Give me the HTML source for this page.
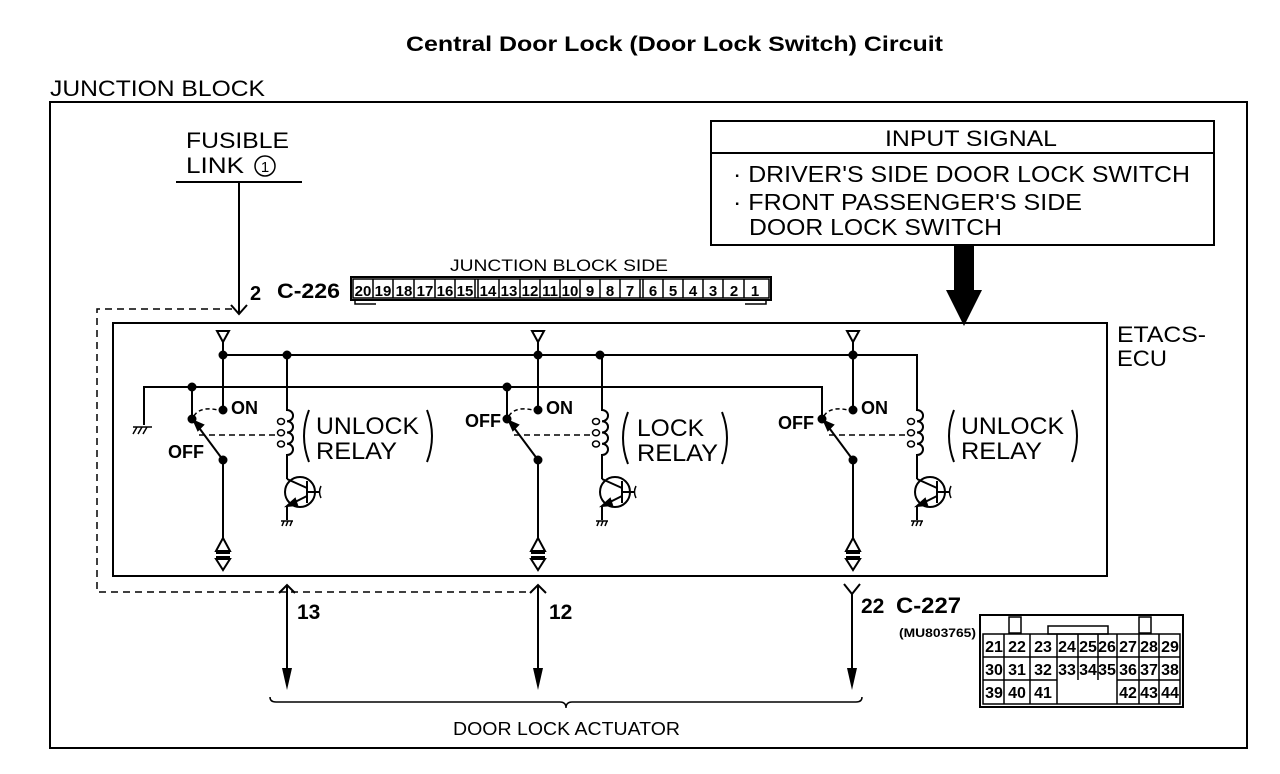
<!DOCTYPE html>
<html><head><meta charset="utf-8"><style>
html,body{margin:0;padding:0;background:#fff}
svg{display:block}
text{font-family:"Liberation Sans",sans-serif;fill:#000}
.b{font-family:"Liberation Sans Narrow","Liberation Sans",sans-serif;font-weight:bold}
</style></head><body>
<svg width="1280" height="774" viewBox="0 0 1280 774" xmlns="http://www.w3.org/2000/svg" stroke="#000" fill="none" stroke-width="2">
<text x="406" y="51" textLength="537" lengthAdjust="spacingAndGlyphs" font-size="21" font-weight="bold" stroke="none">Central Door Lock (Door Lock Switch) Circuit</text>
<text x="50" y="96" textLength="215" lengthAdjust="spacingAndGlyphs" font-size="22" stroke="none">JUNCTION BLOCK</text>
<rect x="50" y="102" width="1197" height="646"/>

<!-- fusible link -->
<text x="186" y="148" textLength="103" lengthAdjust="spacingAndGlyphs" font-size="22" stroke="none">FUSIBLE</text>
<text x="186" y="173" textLength="58" lengthAdjust="spacingAndGlyphs" font-size="22" stroke="none">LINK</text>
<circle cx="265" cy="166" r="10" stroke-width="1.5"/>
<text x="265" y="172" font-size="15" text-anchor="middle" stroke="none">1</text>
<line x1="176" y1="182" x2="302" y2="182"/>
<line x1="239" y1="183" x2="239" y2="314"/>
<polyline points="231,305 239,314 247,305"/>
<text x="250" y="300" class="b" font-size="20" stroke="none">2</text>
<text x="277" y="298" class="b" font-size="21" textLength="63" lengthAdjust="spacingAndGlyphs" stroke="none">C-226</text>

<!-- JB connector -->
<text x="450" y="271" textLength="218" lengthAdjust="spacingAndGlyphs" font-size="17" stroke="none">JUNCTION BLOCK SIDE</text>
<rect x="351" y="277" width="420" height="23"/>
<polyline points="355,300 355,304 376,304" stroke-width="1.5"/>
<polyline points="745,304 766,304 766,300" stroke-width="1.5"/>
<g stroke="none" font-size="15" class="b" text-anchor="middle">
<text x="363" y="296" class="b">20</text><text x="383" y="296" class="b">19</text><text x="404" y="296" class="b">18</text><text x="425" y="296" class="b">17</text><text x="445" y="296" class="b">16</text><text x="465" y="296" class="b">15</text>
<text x="488" y="296" class="b">14</text><text x="509" y="296" class="b">13</text><text x="530" y="296" class="b">12</text><text x="550" y="296" class="b">11</text><text x="570" y="296" class="b">10</text><text x="590" y="296" class="b">9</text><text x="610" y="296" class="b">8</text><text x="630" y="296" class="b">7</text>
<text x="653" y="296" class="b">6</text><text x="673" y="296" class="b">5</text><text x="693" y="296" class="b">4</text><text x="713" y="296" class="b">3</text><text x="734" y="296" class="b">2</text><text x="755" y="296" class="b">1</text>
</g>
<g stroke-width="1.5">
<line x1="373" y1="279" x2="373" y2="298"/><line x1="393" y1="279" x2="393" y2="298"/><line x1="414" y1="279" x2="414" y2="298"/><line x1="435" y1="279" x2="435" y2="298"/><line x1="455" y1="279" x2="455" y2="298"/><line x1="475" y1="279" x2="475" y2="298"/><line x1="478" y1="279" x2="478" y2="298"/>
<line x1="499" y1="279" x2="499" y2="298"/><line x1="520" y1="279" x2="520" y2="298"/><line x1="540" y1="279" x2="540" y2="298"/><line x1="560" y1="279" x2="560" y2="298"/><line x1="580" y1="279" x2="580" y2="298"/><line x1="600" y1="279" x2="600" y2="298"/><line x1="620" y1="279" x2="620" y2="298"/><line x1="640" y1="279" x2="640" y2="298"/><line x1="643" y1="279" x2="643" y2="298"/>
<line x1="663" y1="279" x2="663" y2="298"/><line x1="683" y1="279" x2="683" y2="298"/><line x1="703" y1="279" x2="703" y2="298"/><line x1="723" y1="279" x2="723" y2="298"/><line x1="744" y1="279" x2="744" y2="298"/>
<rect x="353" y="279" width="416" height="19"/>
</g>

<!-- input signal -->
<rect x="711" y="121" width="503" height="124"/>
<line x1="711" y1="153" x2="1214" y2="153"/>
<text x="885" y="146" textLength="172" lengthAdjust="spacingAndGlyphs" font-size="22" stroke="none">INPUT SIGNAL</text>
<text x="733" y="182" textLength="457" lengthAdjust="spacingAndGlyphs" font-size="23" stroke="none">· DRIVER'S SIDE DOOR LOCK SWITCH</text>
<text x="733" y="210" textLength="349" lengthAdjust="spacingAndGlyphs" font-size="23" stroke="none">· FRONT PASSENGER'S SIDE</text>
<text x="749" y="235" textLength="253" lengthAdjust="spacingAndGlyphs" font-size="23" stroke="none">DOOR LOCK SWITCH</text>
<polygon points="954,245 974,245 974,290 982,290 964,326 946,290 954,290" fill="#000" stroke="none"/>

<!-- ECU -->
<rect x="113" y="323" width="994" height="253"/>
<text x="1117" y="342" textLength="89" lengthAdjust="spacingAndGlyphs" font-size="22" stroke="none">ETACS-</text>
<text x="1117" y="366" textLength="50" lengthAdjust="spacingAndGlyphs" font-size="22" stroke="none">ECU</text>

<!-- dashed -->
<polyline points="232,309 97,309 97,592 532,592" stroke-dasharray="7,5" stroke-width="1.5"/>

<!-- wires -->
<polyline points="223,355 917,355 917,410"/>
<polyline points="144,425 144,387 822,387 822,419"/>
<g stroke-width="1.5"><line x1="133" y1="427" x2="152" y2="427"/><line x1="137" y1="427" x2="133" y2="434"/><line x1="142" y1="427" x2="138" y2="434"/><line x1="147" y1="427" x2="143" y2="434"/></g>

<defs>
<g id="sec">
<polygon points="217,331 229,331 223,342"/>
<line x1="223" y1="342" x2="223" y2="410"/>
<circle cx="223" cy="355" r="3.5" fill="#000"/>
<circle cx="223" cy="410" r="3.5" fill="#000"/>
<circle cx="192" cy="419" r="3.5" fill="#000"/>
<line x1="194" y1="421" x2="223" y2="460"/>
<polygon points="194,421 203,425 198,430" fill="#000"/>
<circle cx="223" cy="460" r="3.5" fill="#000"/>
<line x1="223" y1="460" x2="223" y2="538"/>
<polygon points="223,538 216,551 230,551"/>
<line x1="216" y1="553" x2="230" y2="553"/>
<line x1="216" y1="557" x2="230" y2="557"/>
<polygon points="216,559 230,559 223,570"/>
<path d="M194,416 Q200,406 218,410" stroke-dasharray="4,3" stroke-width="1.5"/>
<line x1="199" y1="435" x2="278" y2="435" stroke-dasharray="6,4" stroke-width="1.5"/>
<text x="231" y="414" class="b" font-size="18" stroke="none">ON</text>
<path d="M287,355 L287,410 a6,5.6 0 0 1 0,11.25 a6,5.6 0 0 1 0,11.25 a6,5.6 0 0 1 0,11.25 a6,5.6 0 0 1 0,11.25 L287,479"/>
<g stroke-width="1.5">
<ellipse cx="281" cy="421.5" rx="3.5" ry="3"/><ellipse cx="281" cy="432.8" rx="3.5" ry="3"/><ellipse cx="281" cy="444" rx="3.5" ry="3"/>
</g>
<circle cx="300" cy="492" r="15"/>
<line x1="307" y1="481" x2="307" y2="503"/>
<line x1="307" y1="492" x2="319" y2="492"/>
<path d="M321,486 Q318,492 321,498" stroke-width="1.5"/>
<line x1="287" y1="479" x2="307" y2="488"/>
<line x1="307" y1="496" x2="287" y2="506"/>
<polygon points="287,506 295,499 297,505" fill="#000"/>
<line x1="287" y1="506" x2="287" y2="520"/>
<g stroke-width="1.5"><line x1="281" y1="521" x2="293" y2="521"/><line x1="284" y1="521" x2="282" y2="526"/><line x1="288" y1="521" x2="286" y2="526"/><line x1="292" y1="521" x2="290" y2="526"/></g>
</g>
</defs>

<use href="#sec"/>
<use href="#sec" transform="translate(315,0)"/>
<use href="#sec" transform="translate(630,0)"/>
<circle cx="192" cy="387" r="3.5" fill="#000"/>
<circle cx="507" cy="387" r="3.5" fill="#000"/>
<circle cx="287" cy="355" r="3.5" fill="#000"/>
<circle cx="600" cy="355" r="3.5" fill="#000"/>
<circle cx="853" cy="355" r="3.5" fill="#000"/>
<line x1="192" y1="387" x2="192" y2="419"/>
<line x1="507" y1="387" x2="507" y2="419"/>

<text x="168" y="458" class="b" font-size="18" stroke="none">OFF</text>
<text x="465" y="427" class="b" font-size="18" stroke="none">OFF</text>
<text x="778" y="429" class="b" font-size="18" stroke="none">OFF</text>

<!-- relay labels -->
<path d="M309,410 Q299,436 309,462"/><path d="M427,410 Q437,436 427,462"/>
<text x="316" y="434" textLength="103" lengthAdjust="spacingAndGlyphs" font-size="24" stroke="none">UNLOCK</text>
<text x="316" y="459" textLength="81" lengthAdjust="spacingAndGlyphs" font-size="24" stroke="none">RELAY</text>
<path d="M628,412 Q618,438 628,464"/><path d="M722,412 Q732,438 722,464"/>
<text x="637" y="436" textLength="67" lengthAdjust="spacingAndGlyphs" font-size="24" stroke="none">LOCK</text>
<text x="637" y="461" textLength="81" lengthAdjust="spacingAndGlyphs" font-size="24" stroke="none">RELAY</text>
<path d="M954,410 Q944,436 954,462"/><path d="M1072,410 Q1082,436 1072,462"/>
<text x="961" y="434" textLength="103" lengthAdjust="spacingAndGlyphs" font-size="24" stroke="none">UNLOCK</text>
<text x="961" y="459" textLength="81" lengthAdjust="spacingAndGlyphs" font-size="24" stroke="none">RELAY</text>

<!-- outputs -->
<line x1="287" y1="586" x2="287" y2="672"/>
<polyline points="279,593 287,585 295,593"/>
<polygon points="282,668 292,668 287,690" fill="#000" stroke="none"/>
<text x="297" y="619" class="b" font-size="21" stroke="none">13</text>
<line x1="538" y1="586" x2="538" y2="672"/>
<polyline points="530,593 538,585 546,593"/>
<polygon points="533,668 543,668 538,690" fill="#000" stroke="none"/>
<text x="549" y="619" class="b" font-size="21" stroke="none">12</text>
<line x1="852" y1="594" x2="852" y2="672"/>
<polyline points="844,584 852,594 860,584"/>
<polygon points="847,668 857,668 852,690" fill="#000" stroke="none"/>
<text x="861" y="613" class="b" font-size="21" stroke="none">22</text>
<text x="896" y="613" class="b" font-size="22" textLength="65" lengthAdjust="spacingAndGlyphs" stroke="none">C-227</text>
<text x="899" y="637" class="b" font-size="12" textLength="77" lengthAdjust="spacingAndGlyphs" stroke="none">(MU803765)</text>

<path d="M270,697 Q270,702 276,702 L560,702 Q566,702 566,708 Q566,702 572,702 L856,702 Q862,702 862,697" stroke-width="1.5"/>
<text x="453" y="735" textLength="227" lengthAdjust="spacingAndGlyphs" font-size="18" stroke="none">DOOR LOCK ACTUATOR</text>

<!-- C-227 connector -->
<rect x="980" y="615" width="203" height="92"/>
<rect x="1009" y="617" width="12" height="16" stroke-width="1.5"/>
<rect x="1139" y="617" width="12" height="16" stroke-width="1.5"/>
<rect x="1048" y="626" width="60" height="8" stroke-width="1.5"/>
<g stroke-width="1.5">
<rect x="983" y="634" width="197" height="70"/>
<line x1="983" y1="657" x2="1180" y2="657"/>
<line x1="983" y1="680" x2="1057" y2="680"/><line x1="1117" y1="680" x2="1180" y2="680"/>
<line x1="1004" y1="634" x2="1004" y2="704"/><line x1="1030" y1="634" x2="1030" y2="704"/><line x1="1057" y1="634" x2="1057" y2="704"/>
<line x1="1078" y1="634" x2="1078" y2="680"/><line x1="1098" y1="634" x2="1098" y2="680"/><line x1="1117" y1="634" x2="1117" y2="704"/>
<line x1="1139" y1="634" x2="1139" y2="704"/><line x1="1159" y1="634" x2="1159" y2="704"/>
</g>
<g stroke="none" font-size="16" text-anchor="middle">
<text x="994" y="652" class="b">21</text><text x="1017" y="652" class="b">22</text><text x="1043" y="652" class="b">23</text><text x="1067" y="652" class="b">24</text><text x="1088" y="652" class="b">25</text><text x="1107" y="652" class="b">26</text><text x="1128" y="652" class="b">27</text><text x="1149" y="652" class="b">28</text><text x="1170" y="652" class="b">29</text>
<text x="994" y="675" class="b">30</text><text x="1017" y="675" class="b">31</text><text x="1043" y="675" class="b">32</text><text x="1067" y="675" class="b">33</text><text x="1088" y="675" class="b">34</text><text x="1107" y="675" class="b">35</text><text x="1128" y="675" class="b">36</text><text x="1149" y="675" class="b">37</text><text x="1170" y="675" class="b">38</text>
<text x="994" y="698" class="b">39</text><text x="1017" y="698" class="b">40</text><text x="1043" y="698" class="b">41</text><text x="1128" y="698" class="b">42</text><text x="1149" y="698" class="b">43</text><text x="1170" y="698" class="b">44</text>
</g>
</svg>
</body></html>
